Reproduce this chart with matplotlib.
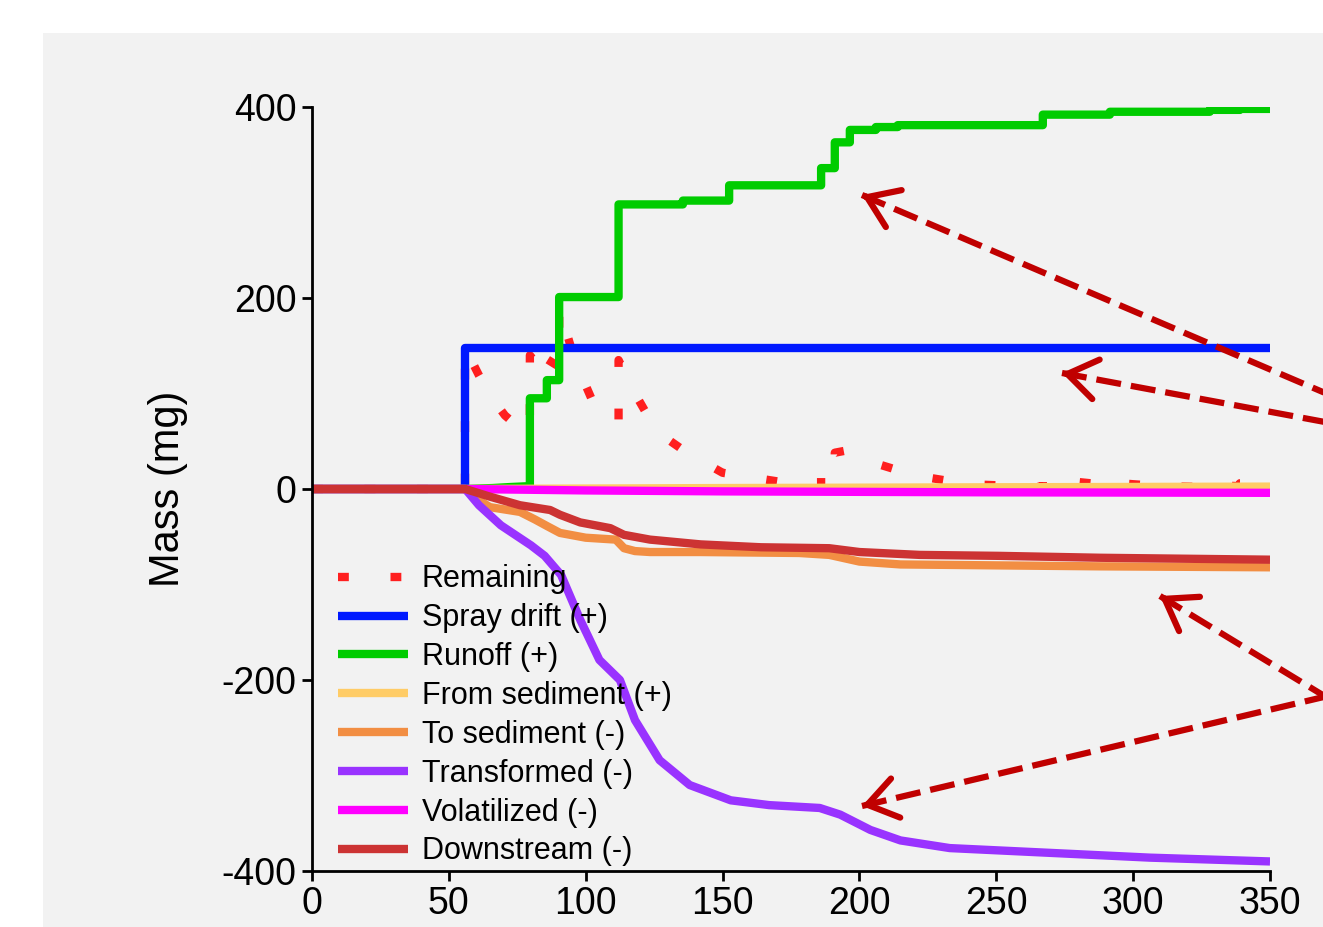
import matplotlib
matplotlib.use("Agg")
import matplotlib.pyplot as plt
from matplotlib.patches import Rectangle

plt.rcParams['font.family'] = ['Liberation Sans Narrow', 'Liberation Sans', 'DejaVu Sans']
plt.rcParams['axes.unicode_minus'] = False

# time (days) and mass (mg)
t_spray = [0, 55.9, 55.9, 350]
spray = [0, 0, 148, 148]

t_runoff = [0, 56, 66, 72, 79.6, 79.6, 85.8, 85.8, 90.3, 90.3, 112, 112, 135.5, 135.5,
            152.4, 152.4, 186, 186, 191, 191, 196.5, 196.5, 206, 206, 214, 214,
            267, 267, 291.5, 291.5, 328, 328, 339, 339, 350]
runoff = [0, 0, 1, 2, 3, 95, 95, 114, 114, 201, 201, 298, 298, 302,
          302, 318, 318, 336, 336, 363, 363, 376, 376, 379, 379, 381,
          381, 392, 392, 395, 395, 397, 397, 398, 398]

t_remain = [0, 55.9, 55.9, 61, 65, 70.5, 75, 79.6, 79.6, 85.8, 85.8, 90.3, 90.3, 96, 104, 112, 112,
            117, 126, 137, 150, 161, 170, 178, 186, 186, 191, 191, 196.5, 202, 208, 216, 225, 240,
            259, 267, 267, 274, 291.5, 291.5, 300, 310, 328, 328, 339, 339, 350]
remain = [0, 0, 148, 119, 98, 77, 66, 60, 140, 118, 136, 128, 190, 135, 82, 70, 135,
          105, 60, 38, 17, 12, 8, 4, 3, 20, 16, 38, 41, 32, 25, 18, 12, 5,
          3, 2, 12, 9, 4, 7, 5, 3, 2, 4, 3, 6, 6]

t_from_sed = [0, 56, 150, 250, 350]
from_sed = [0, 0, 1, 1.8, 2.5]

t_to_sed = [0, 56, 60, 65, 76, 81.5, 86, 90.6, 100, 111, 114, 118, 123.5, 141.8, 178, 189,
            200, 215, 251, 288, 350]
to_sed = [0, 0, -10, -19, -24, -32, -39, -46, -51, -53, -62, -65, -66, -66, -67, -69,
          -76, -79, -80, -81, -82]

t_transf = [0, 56, 61, 69, 80, 85, 91, 98, 105, 112.5, 118, 127, 138, 153, 167, 185.5,
            193, 204, 215, 233, 269.6, 306, 350]
transf = [0, 0, -17, -38, -59, -70, -90, -137, -179, -200, -242, -284, -310, -326, -331, -334,
          -341, -357, -368, -376, -381, -386, -390]

t_volat = [0, 56, 100, 150, 250, 350]
volat = [0, 0, -1.5, -2.5, -3.5, -4]

t_down = [0, 56, 65, 76, 87, 90.6, 98, 109, 114, 123.5, 142, 164, 189, 200, 222, 251,
          288, 350]
down = [0, 0, -8, -17, -22, -27, -35, -41, -48, -53, -58, -61, -62, -66, -69, -70,
        -72, -74]

labels = ['Remaining', 'Spray drift (+)', 'Runoff (+)', 'From sediment (+)', 'To sediment (-)',
          'Transformed (-)', 'Volatilized (-)', 'Downstream (-)']
colors = ['#ff1f1f', '#0019ff', '#00cc00', '#ffcc66', '#f28e43', '#9933ff', '#ff00ff', '#cc3333']

fig = plt.figure(figsize=(13.23, 9.27), dpi=100)
fig.patches.append(Rectangle((43 / 1323, 0), 1, 1 - 33 / 927, transform=fig.transFigure,
                             facecolor='#f2f2f2', edgecolor='none', zorder=-10))
ax = fig.add_axes([312 / 1323, 1 - 871 / 927, (1270 - 312) / 1323, (871 - 107) / 927])
ax.patch.set_visible(False)
ax.set_zorder(1)

lw = 6
ax.plot(t_remain, remain, color=colors[0], lw=lw, linestyle=(0, (1.3, 5.0)), label=labels[0])
series = [(t_spray, spray), (t_runoff, runoff), (t_from_sed, from_sed), (t_to_sed, to_sed),
          (t_transf, transf), (t_volat, volat), (t_down, down)]
for (tt, yy), c, lab in zip(series, colors[1:], labels[1:]):
    ax.plot(tt, yy, color=c, lw=lw, label=lab, solid_capstyle='butt')

ax.set_xlim(0, 350)
ax.set_ylim(-400, 400)
ax.set_xticks([0, 50, 100, 150, 200, 250, 300, 350])
ax.set_yticks([-400, -200, 0, 200, 400])
for s in ['top', 'right']:
    ax.spines[s].set_visible(False)
for s in ['left', 'bottom']:
    ax.spines[s].set_linewidth(2)
ax.tick_params(length=7, width=2, labelsize=27, pad=4)
ax.set_ylabel('Mass (mg)', fontsize=30, labelpad=24, family=['Liberation Sans', 'DejaVu Sans'])

leg = ax.legend(loc='lower left', bbox_to_anchor=(0.027, 0.006), frameon=False, fontsize=22,
                handlelength=2.3, handletextpad=0.45, labelspacing=0.29, borderaxespad=0,
                borderpad=0)

# dashed pointer arrows (image pixel coords: tip, tail off the right edge)
arrows = [((862, 195), (1400, 425)), ((1062, 373), (1400, 436)),
          ((1160, 596), (1400, 742)), ((862, 806), (1400, 679))]
acol = '#c00000'
for (hx, hy), (tx, ty) in arrows:
    tip = (hx, 927 - hy)
    tail = (tx, 927 - ty)
    ax.add_artist(plt.Line2D([tip[0] / 1323, tail[0] / 1323], [tip[1] / 927, tail[1] / 927],
                             transform=fig.transFigure, color=acol, lw=4.5, clip_on=False,
                             linestyle=(0, (4, 1.6)), zorder=5))
    dx, dy = tail[0] - tip[0], tail[1] - tip[1]
    n = (dx ** 2 + dy ** 2) ** 0.5
    ax.annotate('', xy=tip, xycoords='figure pixels',
                xytext=(tip[0] + 6 * dx / n, tip[1] + 6 * dy / n), textcoords='figure pixels',
                arrowprops=dict(arrowstyle='->,head_length=0.55,head_width=0.38', color=acol, lw=4.5,
                                shrinkA=0, shrinkB=0, mutation_scale=38),
                annotation_clip=False, zorder=6)

fig.savefig('out.png', dpi=100, facecolor='white')
